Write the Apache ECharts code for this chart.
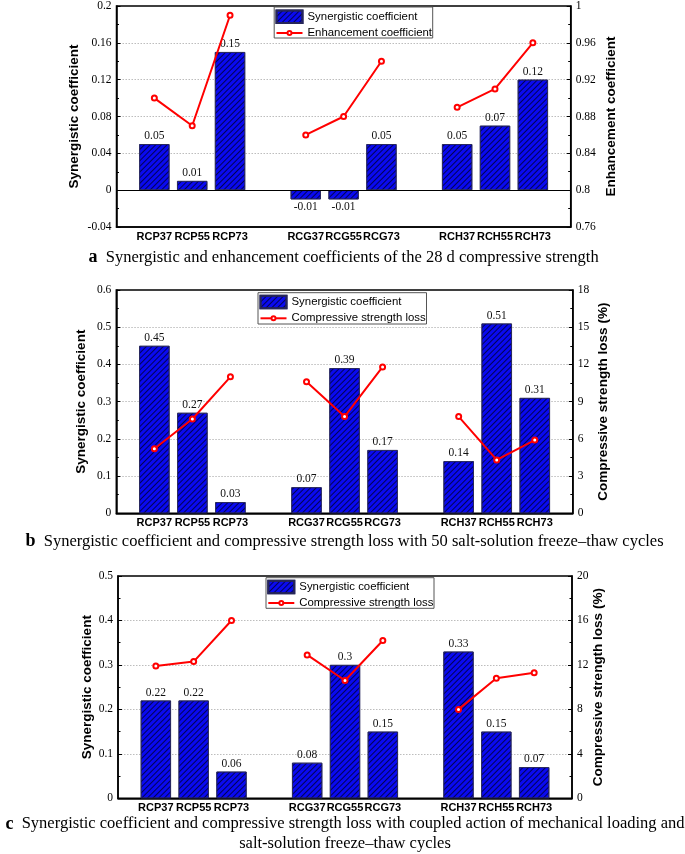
<!DOCTYPE html>
<html><head><meta charset="utf-8">
<script src="https://cdn.jsdelivr.net/npm/echarts@6/dist/echarts.min.js"></script>
<style>html,body{margin:0;padding:0;background:#fff;overflow:hidden}#c{width:685px;height:854px;}</style>
</head><body><div id="c"></div>
<script>
// ---- data ----
const categories = ['RCP37','RCP55','RCP73','RCG37','RCG55','RCG73','RCH37','RCH55','RCH73'];
const synergisticA = [0.05,0.01,0.15,-0.01,-0.01,0.05,0.05,0.07,0.12];
const enhancementA = [0.90,0.87,0.99,0.86,0.88,0.94,0.89,0.91,0.96];
const synergisticB = [0.45,0.27,0.03,0.07,0.39,0.17,0.14,0.51,0.31];
const strengthLossB = [5.2,7.6,11.0,10.6,7.8,11.8,7.8,4.3,5.9];
const synergisticC = [0.22,0.22,0.06,0.08,0.30,0.15,0.33,0.15,0.07];
const strengthLossC = [11.9,12.3,16.0,12.9,10.6,14.2,8.0,10.8,11.3];
const leftTicksA = [-0.04,0,0.04,0.08,0.12,0.16,0.2];
const rightTicksA = [0.76,0.8,0.84,0.88,0.92,0.96,1];
const leftTicksB = [0,0.1,0.2,0.3,0.4,0.5,0.6];
const rightTicksB = [0,3,6,9,12,15,18];
const leftTicksC = [0,0.1,0.2,0.3,0.4,0.5];
const rightTicksC = [0,4,8,12,16,20];
const barName = 'Synergistic coefficient';
const lineNames = ['Enhancement coefficient','Compressive strength loss','Compressive strength loss'];
const leftTitle = 'Synergistic coefficient';
const rightTitles = ['Enhancement coefficient','Compressive strength loss (%)','Compressive strength loss (%)'];
const captions = [
  ['a','Synergistic and enhancement coefficients of the 28 d compressive strength'],
  ['b','Synergistic coefficient and compressive strength loss with 50 salt-solution freeze\u2013thaw cycles'],
  ['c','Synergistic coefficient and compressive strength loss with coupled action of mechanical loading and','salt-solution freeze\u2013thaw cycles']
];

// ---- layout ----
const SERIF = '"Liberation Serif","Times New Roman",serif';
const SANS = '"Liberation Sans",Arial,sans-serif';
const panels = [
  {l:116.5, r:570.7, t:5, b:227, nl:35, nr:34, box:[274.2,7,158.5,31], icon:275.5, rows:[15.7,30], cap:[257.5]},
  {l:116.3, r:572.8, t:290, b:513.3, nl:27.7, nr:23.8, box:[258,292.7,168.5,31.3], icon:259.5, rows:[301,315.3], cap:[541.5]},
  {l:118, r:572, t:576, b:798.3, nl:23.7, nr:19.4, box:[266,577.7,168,30.6], icon:267.3, rows:[586,600], cap:[824, 844]}
];
const bars = [synergisticA, synergisticB, synergisticC];
const lines = [enhancementA, strengthLossB, strengthLossC];
const lefts = [leftTicksA, leftTicksB, leftTicksC];
const rights = [rightTicksA, rightTicksB, rightTicksC];

function spread(arr, gap) {
  const out = [gap];
  arr.forEach((v, i) => { out.push(v); if (i % 3 === 2) out.push(gap); });
  return out;
}
function yAx(gi, ticks, name, gap, pos) {
  return {
    type:'value', gridIndex:gi, position:pos,
    min:ticks[0], max:ticks[ticks.length-1], interval:+(ticks[1]-ticks[0]).toFixed(6),
    name:name, nameLocation:'middle', nameGap:gap, nameMoveOverlap:false,
    nameTextStyle:{fontFamily:SANS, fontWeight:'bold', fontSize:13.5, color:'#000'},
    axisLine:{show:true, lineStyle:{color:'#000', width:1.5}},
    axisTick:{show:true, inside:true, length:4, lineStyle:{color:'#000', width:1}},
    minorTick:{show:true, splitNumber:2, length:2.5, lineStyle:{color:'#000', width:1}},
    axisLabel:{fontFamily:SERIF, fontSize:11.5, color:'#000', margin:5},
    splitLine:{show:pos === 'left', showMinLine:false, showMaxLine:false, lineStyle:{color:'#bdbdbd', type:[1.5,1.5], width:1}}
  };
}
const hatch = {symbol:'rect', symbolSize:1, color:'rgba(0,0,60,0.85)', dashArrayX:[1,0], dashArrayY:[0.9,2.6], rotation:-Math.PI/4};
const legendText = {fontFamily:SANS, fontSize:11.4, color:'#000'};

const option = {backgroundColor:'#fff', animation:false, grid:[], xAxis:[], yAxis:[], series:[], legend:[], graphic:[]};
panels.forEach((p, i) => {
  option.grid.push({left:p.l, top:p.t, width:p.r - p.l, height:p.b - p.t, show:true, borderColor:'#000', borderWidth:1.5, backgroundColor:'transparent'});
  option.xAxis.push({type:'category', gridIndex:i, boundaryGap:false, data:spread(categories, ''),
    axisLine:{onZero:false, lineStyle:{color:'#000', width:1.5}}, axisTick:{show:false},
    axisLabel:{interval:0, fontFamily:SANS, fontWeight:'bold', fontSize:11, color:'#000', margin:4},
    splitLine:{show:false}});
  option.yAxis.push(yAx(i, lefts[i], leftTitle, p.nl, 'left'));
  option.yAxis.push(yAx(i, rights[i], rightTitles[i], p.nr, 'right'));
  const barData = spread(bars[i], null).map(v => v === null ? '-' : {value:v, label:{position: v < 0 ? 'bottom' : 'top'}});
  const barSeries = {type:'bar', name:barName, xAxisIndex:i, yAxisIndex:2*i, data:barData, barWidth:'80%',
    itemStyle:{color:'#0a0af0', borderColor:'#26265a', borderWidth:0.8, decal:hatch},
    label:{show:true, fontFamily:SERIF, fontSize:11.5, color:'#111', distance:2}, z:2};
  if (i === 0) barSeries.markLine = {silent:true, symbol:'none', label:{show:false}, lineStyle:{color:'#000', type:'solid', width:1.2}, data:[{yAxis:0}]};
  option.series.push(barSeries);
  option.series.push({type:'line', name:lineNames[i], xAxisIndex:i, yAxisIndex:2*i+1, data:spread(lines[i], '-'),
    symbol:'emptyCircle', symbolSize:5, itemStyle:{color:'#ff0000', borderWidth:1.2},
    lineStyle:{color:'#ff0000', width:2}, z:5});
  // legend: two parts inside one framed box
  option.legend.push({data:[{name:barName, icon:'rect'}], left:p.icon, top:p.rows[0] - 6.3, padding:0,
    itemWidth:26, itemHeight:12.6, selectedMode:false, textStyle:legendText});
  option.legend.push({data:[{name:lineNames[i]}], left:p.icon, top:p.rows[1] - 2.5, padding:0,
    itemWidth:26, itemHeight:5, selectedMode:false, textStyle:legendText});
  option.graphic.push({type:'rect', shape:{x:p.box[0], y:p.box[1], width:p.box[2], height:p.box[3]},
    style:{fill:'none', stroke:'#555', lineWidth:1}, silent:true, z:1});
  const cx = (p.l + p.r) / 2;
  const c = captions[i];
  option.graphic.push({type:'text', x:cx, y:p.cap[0], style:{text:'{b|' + c[0] + '}  ' + c[1], align:'center', verticalAlign:'middle',
    fontFamily:SERIF, fontSize:16.5, fill:'#000', rich:{b:{fontFamily:SERIF, fontWeight:'bold', fontSize:18, fill:'#000'}}}});
  if (c[2]) option.graphic.push({type:'text', x:cx, y:p.cap[1], style:{text:c[2], align:'center', verticalAlign:'middle', fontFamily:SERIF, fontSize:16.5, fill:'#000'}});
});
const chart = echarts.init(document.getElementById('c'), null, {renderer:'canvas'});
chart.setOption(option);
</script></body></html>
